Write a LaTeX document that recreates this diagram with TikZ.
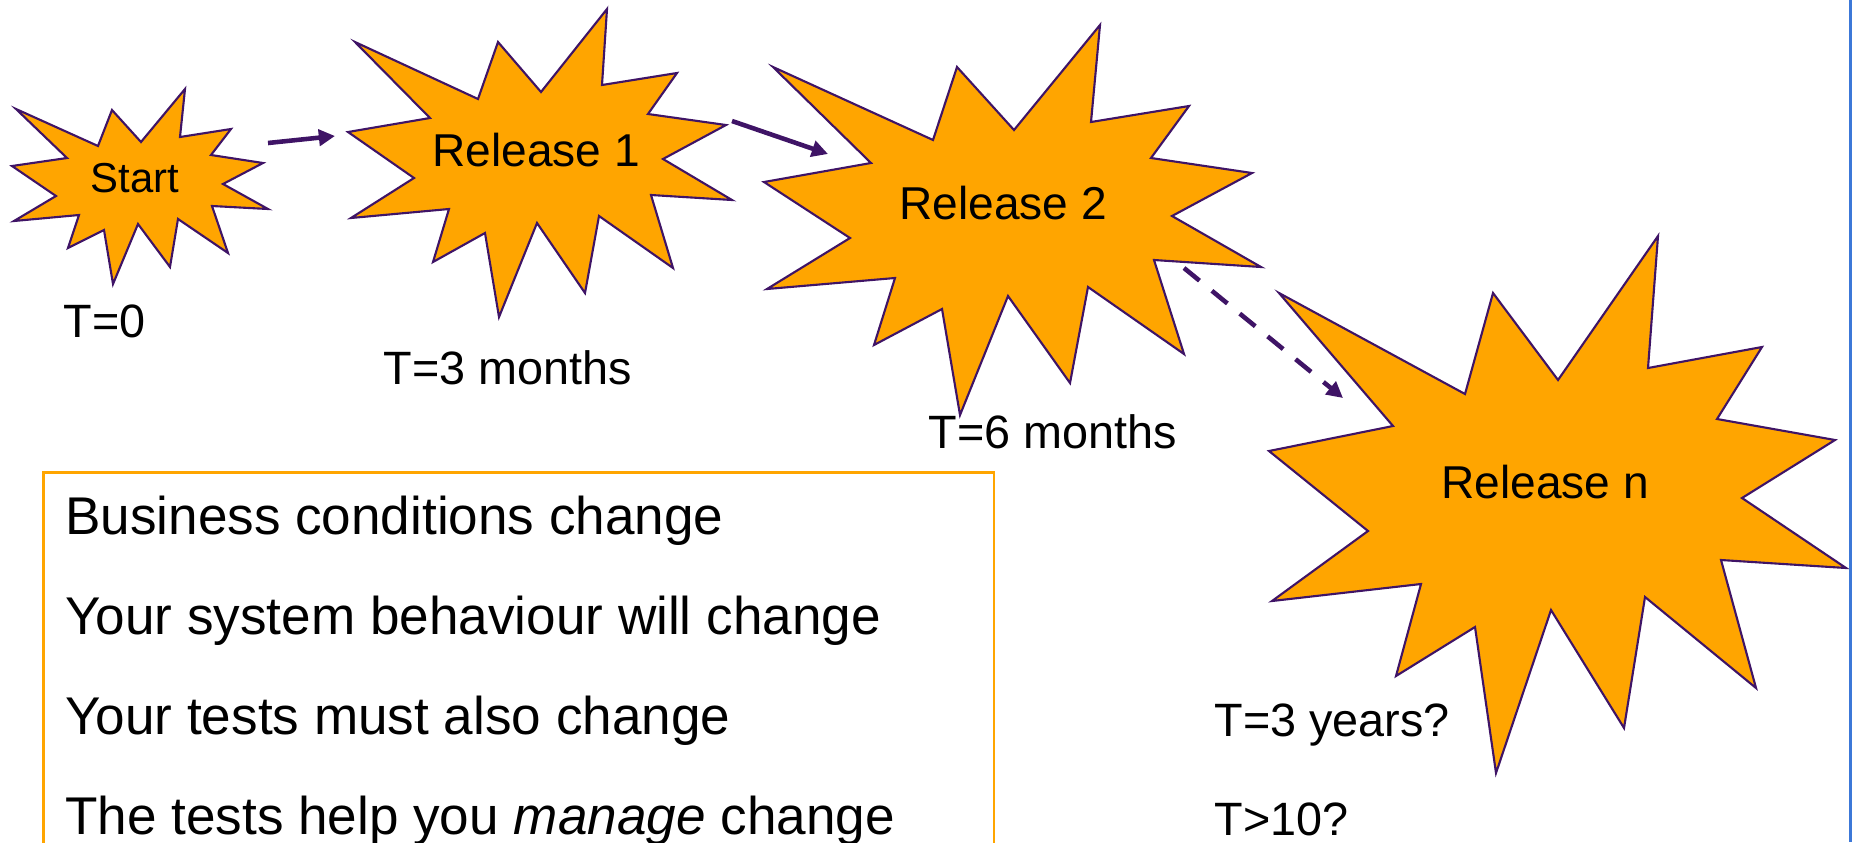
\documentclass[tikz,border=0pt]{standalone}
\usepackage{fontspec}
\setmainfont{Liberation Sans}
\usepackage{tikz}
\usetikzlibrary{arrows.meta}
\definecolor{burstfill}{HTML}{FFA500}
\definecolor{burstline}{HTML}{3F1466}
\definecolor{edgeblue}{HTML}{3C78D8}

\begin{document}
\begin{tikzpicture}[
	x=0.01cm, y=-0.01cm,
	burst/.style={draw=burstline, fill=burstfill, line width=0.6pt, line join=miter},
	stepline/.style={-{Triangle[length=4.6pt,width=4.6pt]}, draw=burstline, line width=1.3pt},
	burstname/.style={anchor=base, inner sep=0pt, font=\fontsize{13.1}{16}\selectfont},
	timetag/.style={anchor=base west, inner sep=0pt, font=\fontsize{13.3}{16}\selectfont},
	boxtext/.style={anchor=base west, inner sep=0pt, font=\fontsize{15.1}{18}\selectfont}
]
	\useasboundingbox (0,0) rectangle (1852,842);
	\clip (0,0) rectangle (1852,842);

	% the four bursts
	\draw[burst] (16,109) -- (98,146) -- (112,110) -- (141,142) -- (185,89) -- (180,137) -- (231,129) -- (211,155) -- (263,163) -- (223,184) -- (268,209) -- (212,206) -- (228,253) -- (178,219) -- (170,267) -- (138,224) -- (113,284) -- (104,230) -- (68,248) -- (79,215) -- (14,221) -- (56,196) -- (12,166) -- (67,158) -- cycle;
	\draw[burst] (355,42) -- (478,99) -- (498,42) -- (541,92) -- (607,9) -- (602,85) -- (677,73) -- (648,114) -- (726,125) -- (663,159) -- (732,200) -- (651,195) -- (673,268) -- (599,216) -- (585,293) -- (537,223) -- (499,317) -- (485,233) -- (433,262) -- (449,209) -- (351,218) -- (414,178) -- (348,132) -- (430,118) -- cycle;
	\draw[burst] (773,67) -- (933,140) -- (957,67) -- (1014,130) -- (1100,25) -- (1091,122) -- (1189,106) -- (1151,158) -- (1252,173) -- (1172,216) -- (1261,267) -- (1154,260) -- (1184,354) -- (1088,287) -- (1070,383) -- (1008,296) -- (960,415) -- (942,309) -- (874,345) -- (895,278) -- (767,289) -- (850,238) -- (764,182) -- (871,163) -- cycle;
	\draw[burst] (1279,293) -- (1465,394) -- (1493,293) -- (1558,380) -- (1658,236) -- (1648,368) -- (1762,347) -- (1717,419) -- (1835,440) -- (1742,498) -- (1846,568) -- (1721,560) -- (1756,688) -- (1645,597) -- (1624,728) -- (1551,610) -- (1496,773) -- (1475,627) -- (1396,676) -- (1421,584) -- (1272,601) -- (1368,531) -- (1269,451) -- (1393,426) -- cycle;

	\node[burstname, font=\fontsize{11.9}{14}\selectfont] (start) at (135,192) {Start};
	\node[burstname] (rel1) at (536,166) {Release 1};
	\node[burstname] (rel2) at (1003,219) {Release 2};
	\node[burstname] (reln) at (1545,498) {Release n};

	\node[timetag] (t0) at (63,337) {T=0};
	\node[timetag] (t3m) at (383,384) {T=3 months};
	\node[timetag] (t6m) at (928,448) {T=6 months};
	\node[timetag] (t3y) at (1214,736) {T=3 years?};
	\node[timetag] (t10) at (1214,835) {T>10?};

	% arrows between releases
	\coordinate (startR) at (268,143);
	\coordinate (rel1L) at (335,136);
	\coordinate (rel1R) at (732,121);
	\coordinate (rel2L) at (828,154);
	\coordinate (rel2R) at (1184,268);
	\coordinate (relnL) at (1343,398);
	\draw[stepline] (startR) -- (rel1L);
	\draw[stepline] (rel1R) -- (rel2L);
	\draw[stepline, dash pattern=on 0.2cm off 0.16cm] (rel2R) -- (relnL);

	\draw[burstfill, line width=0.6pt] (43.5,472.5) rectangle (994,900);
	\foreach \txt [count=\i] in {Business conditions change, Your system behaviour will change, Your tests must also change, The tests help you \textit{manage} change}
		\node[boxtext] (fact\i) at (64.5,434+100*\i) {\txt};

	\draw[edgeblue, line width=0.85pt] (1850.5,0) -- (1850.5,842);
\end{tikzpicture}
\end{document}
